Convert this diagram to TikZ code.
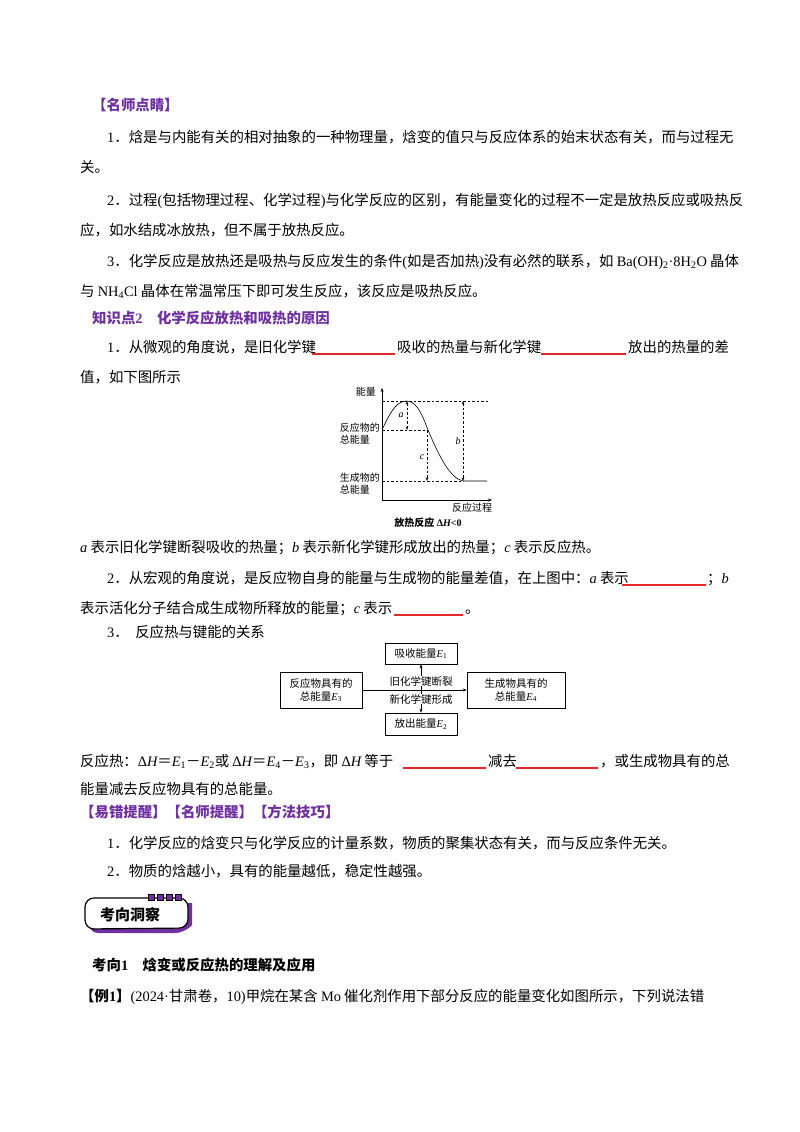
\documentclass[tikz,border=0pt]{standalone}
\usepackage{fontspec}
\setmainfont{Noto Sans CJK SC}
\newfontfamily\lat{Liberation Serif}
\newcommand{\la}[1]{{\lat #1}}
\newcommand{\iv}[1]{{\lat\itshape #1}}
\usetikzlibrary{arrows.meta}
\definecolor{pur}{RGB}{112,48,160}
\definecolor{redl}{RGB}{230,40,40}
\tikzset{
 ln/.style={anchor=base west,inner sep=0pt,font=\fontsize{14.4}{14}\selectfont},
 hd/.style={ln,text=pur,font=\fontsize{14.4}{14}\selectfont\bfseries},
 sm/.style={inner sep=0pt,font=\fontsize{10}{12}\selectfont},
 bx/.style={draw,line width=0.7pt,inner sep=0pt,font=\fontsize{10.5}{13}\selectfont,align=center},
 blank/.style={redl,line width=1.3pt},
 dsh/.style={dashed,line width=0.5pt,dash pattern=on 2.5pt off 2pt},
 arr/.style={-{Stealth[length=4pt,width=3pt]},line width=0.5pt},
}
\begin{document}
\begin{tikzpicture}[x=1pt,y=-1pt]
\useasboundingbox (0,0) rectangle (800,1132);
\fill[white] (0,0) rectangle (800,1132);
\node[hd] (h1) at (92,110) {【名师点睛】};
\node[ln] (l1) at (107,142) {\la{1}．焓是与内能有关的相对抽象的一种物理量，焓变的值只与反应体系的始末状态有关，而与过程无};
\node[ln] (l1b) at (80,172) {关。};
\node[ln] (l2) at (107,205) {\la{2}．过程\la{(}包括物理过程、化学过程\la{)}与化学反应的区别，有能量变化的过程不一定是放热反应或吸热反};
\node[ln] (l2b) at (80,235) {应，如水结成冰放热，但不属于放热反应。};
\node[ln] (l3) at (107,266) {\la{3}．化学反应是放热还是吸热与反应发生的条件\la{(}如是否加热\la{)}没有必然的联系，如 \la{Ba(OH)\textsubscript{2}·8H\textsubscript{2}O} 晶体};
\node[ln] (l3b) at (80,296) {与 \la{NH\textsubscript{4}Cl} 晶体在常温常压下即可发生反应，该反应是吸热反应。};
\node[hd] (h2) at (92,323) {知识点\la{2}\quad 化学反应放热和吸热的原因};
\node[ln] (k1) at (107,352) {\la{1}．从微观的角度说，是旧化学键};
\node[ln] (k1c) at (397,352) {吸收的热量与新化学键};
\node[ln] (k1d) at (628,352) {放出的热量的差};
\draw[blank] (312,354) -- (395,354); \draw[blank] (541,354) -- (626,354);
\node[ln] (k1b) at (80,382) {值，如下图所示};
% energy diagram
\coordinate (O) at (382,500);
\draw[arr] (O) -- (382,388);
\draw[arr] (O) -- (492,500);
\node[sm,anchor=east] (en) at (376,392) {能量};
\draw[dsh] (382,401) -- (488,401);
\draw[dsh] (382,430) -- (428,430);
\draw[dsh] (382,481) -- (463,481);
\draw[line width=0.6pt] (382,430) .. controls (392,408) and (398,401) .. (407,401) .. controls (418,401) and (424,420) .. (428,430) .. controls (440,458) and (450,478) .. (463,481) -- (487,481);
\draw[dsh,{Stealth[length=3.5pt,width=2.5pt]}-{Stealth[length=3.5pt,width=2.5pt]}] (407,401) -- (407,430);
\draw[dsh,-{Stealth[length=3.5pt,width=2.5pt]}] (427,430) -- (427,481);
\draw[dsh,{Stealth[length=3.5pt,width=2.5pt]}-{Stealth[length=3.5pt,width=2.5pt]}] (463,401) -- (463,481);
\node[sm] (la) at (401,415) {\iv{a}};
\node[sm] (lc) at (422,457) {\iv{c}};
\node[sm] (lb) at (458,441) {\iv{b}};
\node[sm,anchor=east,align=left] (re) at (380,434) {反应物的\\总能量};
\node[sm,anchor=east,align=left] (pr) at (380,484) {生成物的\\总能量};
\node[sm] (rp) at (472,508) {反应过程};
\node[sm] (ex) at (428,523) {\bfseries 放热反应 \la{Δ}\iv{H}\la{<0}};
\node[ln] (m1) at (80,552) {\iv{a} 表示旧化学键断裂吸收的热量；\iv{b} 表示新化学键形成放出的热量；\iv{c} 表示反应热。};
\node[ln] (m2) at (107,583) {\la{2}．从宏观的角度说，是反应物自身的能量与生成物的能量差值，在上图中：\iv{a} 表示};
\node[ln] (m2c) at (707,583) {；\iv{b}};
\draw[blank] (622,585) -- (706,585);
\node[ln] (m2b) at (80,613) {表示活化分子结合成生成物所释放的能量；\iv{c} 表示};
\node[ln] (m2d) at (465,613) {。};
\draw[blank] (394,615) -- (463,615);
\node[ln] (m3) at (107,637) {\la{3}．\ \ 反应热与键能的关系};
% box diagram
\node[bx,minimum width=72pt,minimum height=21pt] (top) at (421,653.5) {吸收能量\iv{E}\textsubscript{\la{1}}};
\node[bx,minimum width=72pt,minimum height=22pt] (bot) at (421,724) {放出能量\iv{E}\textsubscript{\la{2}}};
\node[bx,minimum width=82pt,minimum height=36pt] (lft) at (321,690) {反应物具有的\\总能量\iv{E}\textsubscript{\la{3}}};
\node[bx,minimum width=98pt,minimum height=36pt] (rgt) at (516,690) {生成物具有的\\总能量\iv{E}\textsubscript{\la{4}}};
\coordinate (mid) at (421,690);
\draw[arr] (lft.east) -- (rgt.west);
\draw[arr] (mid) -- (top.south);
\draw[arr] (mid) -- (bot.north);
\node[sm,font=\fontsize{10.5}{12}\selectfont,fill=white,inner sep=0.5pt] (t1) at (421,681) {旧化学键断裂};
\node[sm,font=\fontsize{10.5}{12}\selectfont,fill=white,inner sep=0.5pt] (t2) at (421,699) {新化学键形成};
\node[ln] (r1) at (80,766) {反应热：\la{Δ}\iv{H}＝\iv{E}\textsubscript{\la{1}}－\iv{E}\textsubscript{\la{2}}或 \la{Δ}\iv{H}＝\iv{E}\textsubscript{\la{4}}－\iv{E}\textsubscript{\la{3}}，即 \la{Δ}\iv{H} 等于};
\node[ln] (r1c) at (488,766) {减去};
\node[ln] (r1d) at (600,766) {，或生成物具有的总};
\draw[blank] (403,768) -- (486,768); \draw[blank] (516,768) -- (598,768);
\node[ln] (r1b) at (80,794) {能量减去反应物具有的总能量。};
\node[hd] (h3) at (80,817) {【易错提醒】【名师提醒】【方法技巧】};
\node[ln] (n1) at (107,848) {\la{1}．化学反应的焓变只与化学反应的计量系数，物质的聚集状态有关，而与反应条件无关。};
\node[ln] (n2) at (107,876) {\la{2}．物质的焓越小，具有的能量越低，稳定性越强。};
% badge
\fill[pur] (89,903) [rounded corners=9pt] -- (89,933) -- (184,933) [sharp corners] -- (192,925) -- (192,903) -- cycle;
\draw[line width=1.2pt,fill=white,rounded corners=9pt] (85,929) -- (85,898) -- (188,898) [sharp corners] -- (188,906) [rounded corners=9pt] -- (188,928) -- cycle;
\foreach \xx in {148,157,166,175} \draw[line width=1pt,fill=pur] (\xx,894) rectangle (\xx+6,900);
\node[inner sep=0pt,font=\fontsize{15}{15}\selectfont\bfseries] (bd) at (130,915) {考向洞察};
\node[ln,font=\fontsize{14.4}{14}\selectfont\bfseries] (h4) at (92,970) {考向\la{1}\quad 焓变或反应热的理解及应用};
\node[ln] (e1) at (80,1001) {\textbf{【例\la{1}】}\la{(2024·}甘肃卷，\la{10)}甲烷在某含 \la{Mo} 催化剂作用下部分反应的能量变化如图所示，下列说法错};
\end{tikzpicture}
\end{document}
